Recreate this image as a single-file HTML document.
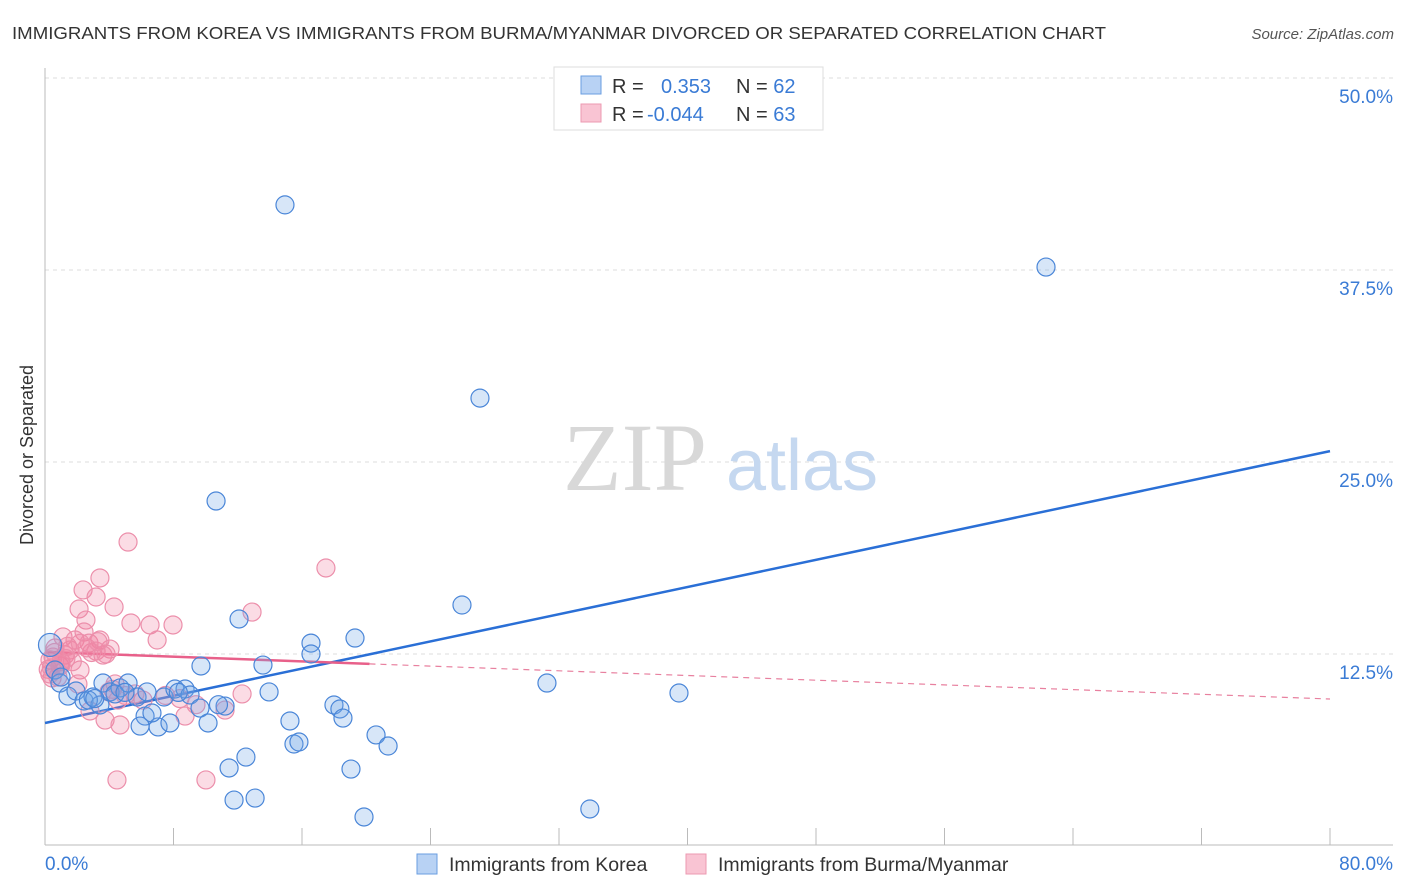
<!DOCTYPE html>
<html><head><meta charset="utf-8"><style>
body{margin:0;background:#fff;font-family:"Liberation Sans",sans-serif;}
svg{display:block}
</style></head><body>
<svg id="chart" width="1406" height="892" viewBox="0 0 1406 892" xmlns="http://www.w3.org/2000/svg">
<text x="12" y="39" font-size="17.5" fill="#333" textLength="1094" lengthAdjust="spacingAndGlyphs">IMMIGRANTS FROM KOREA VS IMMIGRANTS FROM BURMA/MYANMAR DIVORCED OR SEPARATED CORRELATION CHART</text>
<text x="1394" y="39" font-size="15" fill="#555" font-style="italic" text-anchor="end">Source: ZipAtlas.com</text>
<g id="grid"></g>
<g>
<text x="635" y="490" font-family="Liberation Serif,serif" font-size="96" fill="#d8d8d8" text-anchor="middle">ZIP</text>
<text x="802" y="490" font-size="72" fill="#c5d8f0" text-anchor="middle">atlas</text>
</g>
<line x1="45" y1="68" x2="45" y2="845" stroke="#bbb"/>
<line x1="45" y1="845" x2="1393" y2="845" stroke="#bbb"/>
<g id="ticks"></g>
<g id="trend"></g>
<g id="pts"></g>
<text x="33" y="455" font-size="18" fill="#333" text-anchor="middle" transform="rotate(-90 33 455)">Divorced or Separated</text>
<text x="45" y="870" font-size="19" fill="#3a7bd5">0.0%</text>
<text x="1393" y="870" font-size="19" fill="#3a7bd5" text-anchor="end">80.0%</text>
<g>
<rect x="554" y="67" width="269" height="63" fill="#fff" stroke="#ddd"/>
<rect x="581" y="76" width="20" height="18" fill="#b8d2f4" stroke="#6a9ee0"/>
<rect x="581" y="104" width="20" height="18" fill="#f9c4d3" stroke="#ec9ab2"/>
<text x="612" y="93" font-size="20" fill="#333">R = <tspan fill="#3a7bd5" x="661">0.353</tspan><tspan fill="#333" x="736">N = </tspan><tspan fill="#3a7bd5">62</tspan></text>
<text x="612" y="121" font-size="20" fill="#333">R = <tspan fill="#3a7bd5" x="647">-0.044</tspan><tspan fill="#333" x="736">N = </tspan><tspan fill="#3a7bd5">63</tspan></text>
</g>
<g>
<rect x="417" y="854" width="20" height="20" fill="#b8d2f4" stroke="#6a9ee0"/>
<text x="449" y="871" font-size="19.5" fill="#333">Immigrants from Korea</text>
<rect x="686" y="854" width="20" height="20" fill="#f9c4d3" stroke="#ec9ab2"/>
<text x="718" y="871" font-size="19.5" fill="#333">Immigrants from Burma/Myanmar</text>
</g>
</svg>
<script>
const yTicks=[12.5,25,37.5,50];
const yTickLabels=["12.5%","25.0%","37.5%","50.0%"];
const xTickValues=[0,8,16,24,32,40,48,56,64,72,80];
const koreaX=[14.94,62.32,27.08,10.65,25.96,12.08,19.30,16.56,16.56,9.71,13.57,31.25,39.47,0.31,0.62,0.93,1.43,1.93,2.43,2.99,3.42,3.61,4.05,4.67,5.17,5.73,6.35,6.23,7.04,5.92,6.66,7.41,7.78,8.09,8.72,9.03,9.65,10.15,11.21,11.46,12.51,11.77,13.08,13.95,15.25,15.50,15.81,17.99,18.36,18.55,19.05,20.61,21.36,19.86,33.92,4.36,4.98,1.0,2.7,8.3,10.8,3.1];
const koreaY=[41.74,37.69,29.16,22.46,15.69,14.78,13.54,13.21,12.50,11.72,11.78,10.61,9.96,13.09,11.46,10.61,9.76,10.09,9.44,9.70,9.18,10.61,10.03,10.29,10.61,9.70,10.03,8.46,7.75,7.81,8.66,9.70,8.01,10.22,10.22,9.83,8.98,8.01,9.11,5.08,5.79,2.99,3.12,10.03,8.14,6.64,6.77,9.18,8.92,8.33,5.01,7.23,6.51,1.89,2.41,9.9,10.0,11.0,9.5,10.0,9.2,9.6];
const burmaX=[5.17,17.49,3.42,2.37,3.18,2.12,4.30,12.89,2.55,5.35,6.54,7.97,6.98,2.43,1.12,1.87,2.74,3.42,4.05,3.18,0.62,1.56,0.31,0.93,2.18,0.44,2.05,4.36,3.98,4.54,2.80,3.74,4.67,8.72,11.21,12.27,4.48,10.02,3.61,1.25,0.2,0.5,0.8,1.0,1.4,2.9,3.8,2.2,1.7,0.3,0.6,4.2,5.0,7.5,8.4,9.4,1.0,2.6,3.3,0.4,1.3,6.1,5.6];
const burmaY=[19.79,18.10,17.45,16.67,16.21,15.43,15.56,15.23,14.71,14.52,14.39,14.39,13.41,13.93,13.61,13.41,13.21,13.41,12.82,12.69,12.89,12.76,12.11,11.72,11.46,10.94,10.55,10.55,10.03,9.50,8.79,8.20,7.88,8.46,8.85,9.90,4.30,4.30,12.43,12.43,11.5,12.3,11.0,12.0,13.0,12.6,12.5,13.2,12.0,11.2,12.6,10.2,9.8,9.8,9.6,9.2,11.8,12.9,13.3,11.6,12.2,9.5,9.9];
const koreaTrend=[8.01,25.71];
const burmaTrend=[12.63,9.57];
const burmaSolidEnd=20.2;
const NS="http://www.w3.org/2000/svg";
const X=v=>45+v/80*1285;
const Y=v=>846-v/12.5*192;
function mk(t,a,p){const e=document.createElementNS(NS,t);for(const k in a)e.setAttribute(k,a[k]);p.appendChild(e);return e;}
const grid=document.getElementById('grid');
yTicks.forEach((t,i)=>{
 const l=mk('line',{x1:45,x2:1393,y1:Y(t),y2:Y(t),stroke:'#ddd','stroke-dasharray':'4,4'},grid);
 
 
 const tx=mk('text',{x:1393,y:Y(t)+25,'font-size':19,fill:'#3a7bd5','text-anchor':'end'},grid);
 tx.textContent=yTickLabels[i];
 
 
});
const ticks=document.getElementById('ticks');
xTickValues.forEach(v=>{
 const l=mk('line',{x1:X(v),x2:X(v),y1:828,y2:845,stroke:'#bbb'},ticks);
 
 
});
const tr=document.getElementById('trend');
const bt=mk('line',{x1:X(0),y1:Y(koreaTrend[0]),x2:X(80),y2:Y(koreaTrend[1]),stroke:'#2a6fd6','stroke-width':2.5},tr);


const pm=v=>burmaTrend[0]+(burmaTrend[1]-burmaTrend[0])*v/80;
const pd=mk('line',{x1:X(burmaSolidEnd),y1:Y(pm(burmaSolidEnd)),x2:X(80),y2:Y(burmaTrend[1]),stroke:'#e8809f','stroke-width':1.2,'stroke-dasharray':'6,5'},tr);


const ps=mk('line',{x1:X(0),y1:Y(burmaTrend[0]),x2:X(burmaSolidEnd),y2:Y(pm(burmaSolidEnd)),stroke:'#e8608a','stroke-width':2.5},tr);


const pts=document.getElementById('pts');
burmaX.forEach((x,i)=>{
 const c=mk('circle',{cx:X(x),cy:Y(burmaY[i]),r:9,fill:'rgba(240,130,160,0.28)',stroke:'#ec8fab','stroke-width':1.2},pts);
 
 
});
koreaX.forEach((x,i)=>{
 const c=mk('circle',{cx:X(x),cy:Y(koreaY[i]),r:i==13?11.5:9,fill:'rgba(110,165,230,0.28)',stroke:'#4a86d8','stroke-width':1.2},pts);
 
 
});
</script>
</body></html>
